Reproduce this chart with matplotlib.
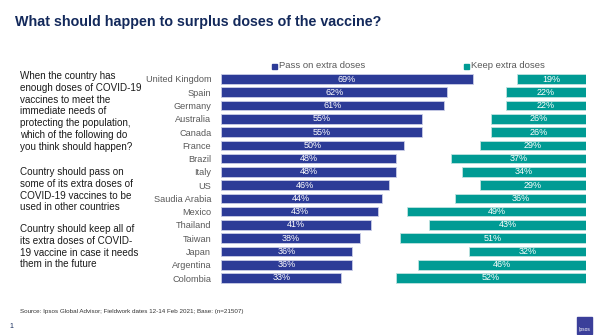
import numpy as np
import matplotlib.pyplot as plt
from matplotlib.patches import Rectangle

plt.rcParams['font.family'] = ['Liberation Sans', 'DejaVu Sans']

countries = ['United Kingdom', 'Spain', 'Germany', 'Australia', 'Canada', 'France',
             'Brazil', 'Italy', 'US', 'Saudia Arabia', 'Mexico', 'Thailand',
             'Taiwan', 'Japan', 'Argentina', 'Colombia']
pass_on = [69, 62, 61, 55, 55, 50, 48, 48, 46, 44, 43, 41, 38, 36, 36, 33]
keep = [19, 22, 22, 26, 26, 29, 37, 34, 29, 36, 49, 43, 51, 32, 46, 52]

blue = '#2c3b97'
teal = '#009b94'
navy = '#13295b'

W, H = 602, 335
fig = plt.figure(figsize=(W / 100, H / 100), dpi=100)

# axes in pixel geometry: bars from x=221 to 586, rows 79..278
n = len(countries)
step = (278 - 79) / (n - 1)
top, bot = 79 - step / 2, 278 + step / 2
ax = fig.add_axes([221 / W, 1 - bot / H, (586 - 221) / W, (bot - top) / H])
y = np.arange(n)
ax.barh(y, pass_on, height=0.72, color=blue, edgecolor='#c9cde6', linewidth=0.6)
ax.barh(y, keep, left=[100 - k for k in keep], height=0.72, color=teal,
        edgecolor='#bfe3e0', linewidth=0.6)
for i in range(n):
    ax.text(pass_on[i] / 2, i, f'{pass_on[i]}%', ha='center', va='center',
            color='white', fontsize=6.5)
    ax.text(100 - keep[i] / 2, i, f'{keep[i]}%', ha='center', va='center',
            color='white', fontsize=6.5)
ax.set_xlim(0, 100)
ax.set_ylim(n - 0.5, -0.5)
ax.set_yticks(y)
ax.set_yticklabels(countries, fontsize=6.6, color='#595959')
ax.tick_params(axis='y', length=0, pad=7)
ax.set_xticks([])
for s in ax.spines.values():
    s.set_visible(False)

def px(x, yy):
    return x / W, 1 - yy / H

# title
fig.text(*px(15, 22), 'What should happen to surplus doses of the vaccine?',
         fontsize=10.3, fontweight='bold', color=navy, va='center', ha='left')

# legend
fig.patches.append(Rectangle(px(272, 69), 5 / W, 5 / H, transform=fig.transFigure,
                             color=blue))
fig.text(*px(279, 66), 'Pass on extra doses', fontsize=6.8, color='#595959', va='center')
fig.patches.append(Rectangle(px(464, 69), 5 / W, 5 / H, transform=fig.transFigure,
                             color=teal))
fig.text(*px(471, 66), 'Keep extra doses', fontsize=6.8, color='#595959', va='center')

# left side texts
fig.text(*px(20, 71), 'When the country has\nenough doses of COVID-19\nvaccines to meet the\n'
         'immediate needs of\nprotecting the population,\nwhich of the following do\n'
         'you think should happen?', fontsize=7.1, color='#1a1a1a', va='top',
         linespacing=1.22)
fig.text(*px(20, 167), 'Country should pass on\nsome of its extra doses of\n'
         'COVID-19 vaccines to be\nused in other countries', fontsize=7.1,
         color='#1a1a1a', va='top', linespacing=1.22)
fig.text(*px(20, 224), 'Country should keep all of\nits extra doses of COVID-\n'
         '19 vaccine in case it needs\nthem in the future', fontsize=7.1,
         color='#1a1a1a', va='top', linespacing=1.22)

# footer
fig.text(*px(20, 311), 'Source: Ipsos Global Advisor; Fieldwork dates 12-14 Feb 2021; Base: (n=21507)',
         fontsize=4.5, color='#333333', va='center')
fig.text(*px(9, 326), '1', fontsize=5, color=navy, va='center')

# logo
fig.patches.append(Rectangle(px(577, 334), 15 / W, 17 / H, transform=fig.transFigure,
                             color='#3b3f9a'))
fig.text(*px(584.5, 329), 'Ipsos', fontsize=3.5, color='white', ha='center', va='center')

fig.savefig('out.png', dpi=100)
